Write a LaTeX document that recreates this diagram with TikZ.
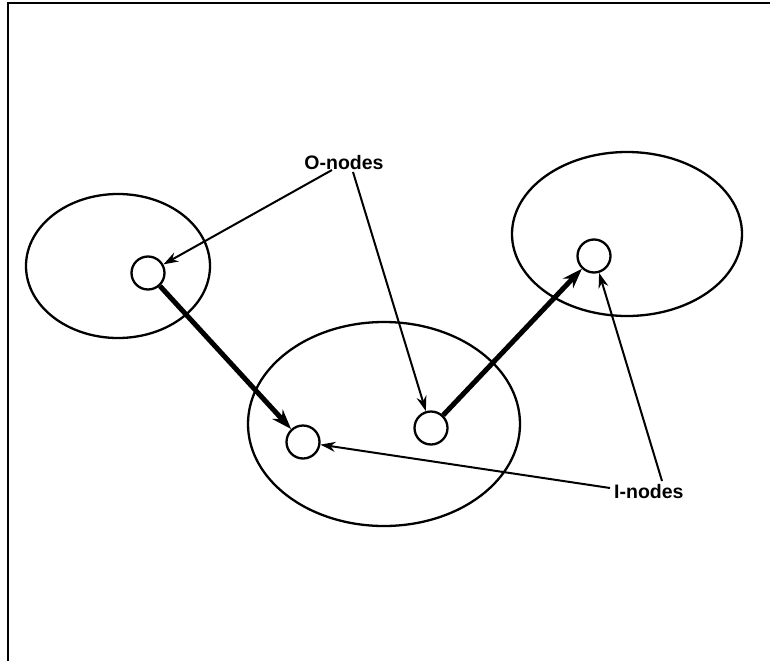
\documentclass[tikz,border=0pt]{standalone}
\usepackage{fontspec}
\setmainfont{Liberation Sans}
\usetikzlibrary{arrows.meta}
\begin{document}
\begin{tikzpicture}[x=1pt,y=-1pt,
  region/.style={draw,line width=2.3pt},
  pnode/.style={draw,circle,line width=2.3pt,minimum size=33pt,inner sep=0pt,fill=white},
  thinarrow/.style={line width=2pt,-{Stealth[length=15pt,width=10pt]}},
  thickarrow/.style={line width=5pt,-{Stealth[length=20pt,width=14pt]}},
  lbl/.style={font=\fontsize{19.5}{23}\bfseries,inner sep=0pt}]
\useasboundingbox (0,0) rectangle (770,661);
% frame
\coordinate (ftl) at (8,3);
\coordinate (ftr) at (770,3);
\coordinate (fbl) at (8,661);
\draw[line width=2.5pt] (fbl) -- (ftl) -- (ftr);
% regions
\draw[region] (118,266) ellipse [x radius=92, y radius=72];
\draw[region] (627,234) ellipse [x radius=115, y radius=82];
\draw[region] (384,424) ellipse [x radius=136, y radius=102];
% nodes
\node[pnode] (A) at (148,273) {};
\node[pnode] (B) at (303,442) {};
\node[pnode] (C) at (431,428) {};
\node[pnode] (D) at (594,256) {};
% labels
\node[lbl] (olab) at (344,163) {O-nodes};
\node[lbl,anchor=west] (ilab) at (614,492) {I-nodes};
\coordinate (o1) at (332,170);
\coordinate (o2) at (353,172);
\coordinate (i1) at (610,488);
\coordinate (i2) at (662,481);
% connectors
\draw[thickarrow] (A) -- (B);
\draw[thickarrow] (C) -- (D);
\draw[thinarrow] (o1) -- (A);
\draw[thinarrow] (o2) -- (C);
\draw[thinarrow] (i1) -- (B);
\draw[thinarrow] (i2) -- (D);
\end{tikzpicture}
\end{document}
